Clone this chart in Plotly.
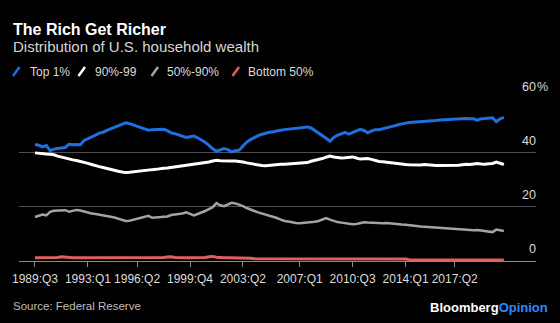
import plotly.graph_objects as go

# Quarterly categories, 1989:Q3 through 2020:Q3
quarters = []
yr, q = 1989, 3
for _ in range(125):
    quarters.append(f"{yr}:Q{q}")
    q += 1
    if q > 4:
        q, yr = 1, yr + 1

tick_quarters = ["1989:Q3", "1993:Q1", "1996:Q2", "1999:Q4", "2003:Q2",
                 "2007:Q1", "2010:Q3", "2014:Q1", "2017:Q2"]
y_ticks = [0, 20, 40, 60]

top_1 = [
    43.1, 42.8, 42.2, 42.7, 40.8, 41.4, 41.6, 41.8, 42.0, 43.2,
    43.0, 43.1, 43.0, 44.6, 45.2, 45.9, 46.6, 47.3, 47.6, 48.3,
    48.9, 49.4, 50.0, 50.6, 51.1, 50.8, 50.3, 49.8, 49.2, 48.7,
    48.4, 48.6, 48.6, 48.5, 48.7, 48.2, 47.4, 47.1, 46.6, 46.1,
    45.7, 46.0, 46.2, 45.6, 44.9, 43.9, 42.8, 41.5, 40.6, 41.2,
    41.6, 41.2, 40.4, 40.8, 41.0, 42.5, 44.0, 44.9, 45.8, 46.4,
    46.9, 47.3, 47.6, 47.8, 48.2, 48.4, 48.6, 48.8, 49.0, 49.2,
    49.4, 49.5, 49.6, 49.2, 48.3, 47.4, 46.5, 45.4, 44.3, 45.7,
    46.5, 47.0, 47.6, 46.9, 47.5, 48.2, 48.7, 48.3, 47.4, 48.1,
    48.6, 48.6, 48.9, 49.3, 49.6, 50.0, 50.4, 50.8, 51.0, 51.2,
    51.3, 51.5, 51.4, 51.6, 51.8, 51.9, 52.0, 52.2, 52.3, 52.4,
    52.5, 52.6, 52.7, 52.7, 52.7, 52.6, 52.6, 52.1, 52.6, 52.7,
    52.8, 53.0, 51.5, 52.6, 53.1,
]

next_9 = [
    40.0, 39.8, 39.7, 39.6, 39.5, 39.3, 38.8, 38.4, 38.0, 37.7,
    37.4, 37.2, 36.9, 36.5, 36.1, 35.7, 35.2, 34.9, 34.6, 34.2,
    33.8, 33.5, 33.2, 32.9, 32.7, 32.8, 33.0, 33.1, 33.3, 33.4,
    33.6, 33.8, 33.9, 34.2, 34.3, 34.4, 34.6, 34.8, 35.0, 35.2,
    35.4, 35.5, 35.7, 35.9, 36.1, 36.2, 36.6, 37.0, 37.3, 37.1,
    37.0, 37.0, 37.0, 37.0, 36.9, 36.6, 36.3, 36.0, 35.8, 35.6,
    35.3, 35.2, 35.4, 35.6, 35.7, 35.8, 35.8, 35.9, 36.0, 36.1,
    36.2, 36.3, 36.4, 36.9, 37.2, 37.4, 37.9, 38.4, 38.8, 38.5,
    38.2, 38.1, 38.2, 38.4, 38.5, 38.1, 37.7, 37.8, 37.9, 37.6,
    37.2, 36.8, 36.7, 36.5, 36.3, 36.2, 36.0, 35.8, 35.7, 35.6,
    35.5, 35.4, 35.5, 35.7, 35.5, 35.4, 35.3, 35.3, 35.3, 35.3,
    35.3, 35.3, 35.4, 35.6, 35.8, 35.7, 35.9, 36.1, 35.9, 35.8,
    36.0, 36.1, 36.6, 36.2, 35.7,
]

next_40 = [
    16.3, 16.7, 17.2, 16.9, 18.2, 18.6, 18.7, 18.9, 18.8, 18.2,
    18.5, 18.9, 18.7, 18.3, 17.8, 17.6, 17.4, 17.2, 16.9, 16.6,
    16.4, 16.1, 15.7, 15.2, 14.8, 14.9, 15.3, 15.7, 16.0, 16.4,
    16.7, 16.0, 16.1, 16.3, 16.4, 16.5, 17.0, 17.2, 17.3, 17.6,
    18.0, 17.3, 16.9, 17.4, 17.9, 18.5, 19.2, 19.9, 21.4, 20.6,
    20.3, 20.9, 21.5, 21.3, 20.9, 20.3, 19.6, 18.9, 18.5, 18.0,
    17.6, 17.1, 16.8, 16.5, 15.9, 15.3, 14.8, 14.6, 14.3, 14.1,
    14.0, 14.1, 14.2, 14.3, 14.5, 14.8, 15.4, 15.9, 15.3, 14.8,
    14.4, 14.2, 14.0, 13.8, 13.6, 13.7, 14.1, 14.3, 14.2, 14.1,
    14.2, 14.1, 14.0, 14.1, 13.9, 13.8, 13.6, 13.5, 13.4, 13.2,
    13.0, 12.9, 12.8, 12.7, 12.6, 12.5, 12.4, 12.3, 12.2, 12.0,
    11.9, 11.9, 11.8, 11.7, 11.6, 11.5, 11.4, 11.5, 11.3, 11.1,
    11.0, 10.7, 11.6, 11.3, 11.1,
]

bottom_50 = [
    1.2, 1.2, 1.2, 1.2, 1.2, 1.2, 1.3, 1.6, 1.4, 1.2,
    1.2, 1.2, 1.2, 1.2, 1.2, 1.2, 1.2, 1.2, 1.2, 1.2,
    1.2, 1.2, 1.2, 1.2, 1.2, 1.2, 1.2, 1.2, 1.2, 1.2,
    1.2, 1.2, 1.2, 1.2, 1.3, 1.5, 1.6, 1.3, 1.2, 1.2,
    1.2, 1.2, 1.2, 1.2, 1.2, 1.3, 1.6, 1.7, 1.4, 1.2,
    1.2, 1.2, 1.2, 1.2, 1.2, 1.1, 1.1, 1.0, 0.8, 0.8,
    0.8, 0.8, 0.8, 0.8, 0.8, 0.8, 0.8, 0.8, 0.8, 0.8,
    0.8, 0.8, 0.8, 0.8, 0.8, 0.8, 0.8, 0.8, 0.8, 0.8,
    0.8, 0.8, 0.8, 0.8, 0.8, 0.8, 0.8, 0.8, 0.8, 0.8,
    0.8, 0.8, 0.8, 0.8, 0.8, 0.8, 0.8, 0.8, 0.7, 0.5,
    0.4, 0.4, 0.4, 0.4, 0.4, 0.4, 0.4, 0.4, 0.4, 0.4,
    0.4, 0.4, 0.4, 0.4, 0.4, 0.4, 0.4, 0.4, 0.4, 0.4,
    0.4, 0.4, 0.4, 0.4, 0.4,
]

series = [
    ("Bottom 50%", bottom_50, "#e0605f", 3),
    ("50%-90%", next_40, "#a3a3a3", 2.5),
    ("90%-99", next_9, "#ffffff", 3),
    ("Top 1%", top_1, "#1f6fde", 3),
]

W, H = 560, 323
L, R, T, B = 19, 24, 98, 62
PW, PH = W - L - R, H - T - B
FONT = "Liberation Sans, Arial, sans-serif"


def px(x):
    return (x - L) / PW


def py(y):
    return (H - B - y) / PH


fig = go.Figure()
for name, vals, color, width in series:
    fig.add_trace(go.Scatter(
        x=quarters, y=vals, name=name, mode="lines",
        line=dict(color=color, width=width),
        hoverinfo="skip",
    ))

annotations = [
    dict(text="<b>The Rich Get Richer</b>", x=px(11), y=py(29), xanchor="left",
         yanchor="middle", font=dict(size=16, color="#ffffff")),
    dict(text="Distribution of U.S. household wealth", x=px(11), y=py(46.5),
         xanchor="left", yanchor="middle", font=dict(size=15, color="#d6d6d6")),
    dict(text="Source: Federal Reserve", x=px(11), y=py(306), xanchor="left",
         yanchor="middle", font=dict(size=11.5, color="#bdbdbd")),
    dict(text="<b>Bloomberg</b><b><span style='color:#2b8cff'>Opinion</span></b>",
         x=px(550), y=py(307), xanchor="right", yanchor="middle",
         font=dict(size=13, color="#ffffff")),
]

# Legend built from slash markers and labels
legend_pos = [(13, 29), (78.5, 94), (151.5, 166), (232.5, 247)]
shapes = []
for (name, _, color, _), (ix, tx) in zip(reversed(series), legend_pos):
    shapes.append(dict(type="line", xref="paper", yref="paper",
                       x0=px(ix), y0=py(76), x1=px(ix + 6.5), y1=py(67),
                       line=dict(color=color, width=2.5)))
    annotations.append(dict(text=name, x=px(tx - 1), y=py(71.5), xanchor="left",
                            yanchor="middle", font=dict(size=12, color="#dcdcdc")))

# Value-axis labels sit above the right end of each gridline
for v in y_ticks:
    annotations.append(dict(text=str(v), x=px(538), xref="paper", y=v, yref="y",
                            xanchor="right", yanchor="bottom", yshift=3,
                            font=dict(size=12.5, color="#dcdcdc")))
annotations.append(dict(text="%", x=px(535), xref="paper", y=y_ticks[-1], yref="y",
                        xanchor="left", yanchor="bottom", yshift=3,
                        font=dict(size=12.5, color="#dcdcdc")))

for a in annotations:
    a.setdefault("xref", "paper")
    a.setdefault("yref", "paper")
    a["showarrow"] = False

fig.update_layout(
    width=W, height=H,
    margin=dict(l=L, r=R, t=T, b=B, pad=0),
    paper_bgcolor="#000000", plot_bgcolor="#000000",
    font=dict(family=FONT, color="#dcdcdc"),
    showlegend=False,
    annotations=annotations,
    shapes=shapes,
    xaxis=dict(
        type="category", categoryorder="array", categoryarray=quarters,
        range=[-4.23, 132.5], tickmode="array", tickvals=tick_quarters,
        ticktext=tick_quarters, tickangle=0,
        ticks="outside", ticklen=5, tickwidth=1, tickcolor="#8a8a8a",
        ticklabelstandoff=2,
        showline=True, linecolor="#8a8a8a", linewidth=1,
        showgrid=False, zeroline=False,
        tickfont=dict(size=12, color="#dcdcdc"),
    ),
    yaxis=dict(
        range=[0, 60.3], tickmode="array", tickvals=y_ticks,
        showticklabels=False, ticks="",
        showgrid=True, gridcolor="#4f4f4f", gridwidth=1,
        zeroline=False, showline=False,
    ),
)

fig.write_html("out.html")
